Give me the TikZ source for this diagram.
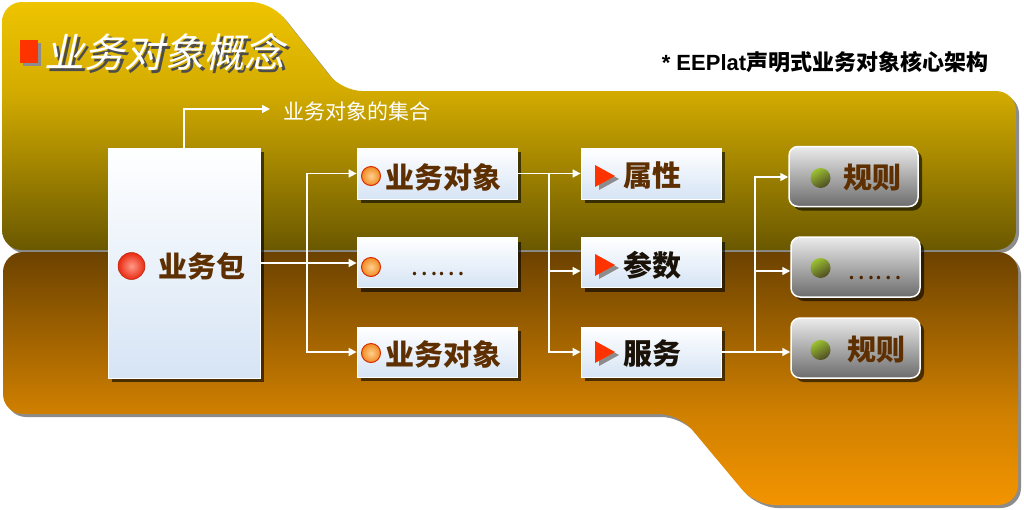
\documentclass[tikz,border=0pt]{standalone}
\usepackage{fontspec}
\newfontfamily\cjk{Noto Sans CJK SC}
\newfontfamily\cjkit{Noto Sans CJK SC}[FakeSlant=0.22]
\newfontfamily\arial{Liberation Sans}
\usetikzlibrary{arrows.meta,shadows}
\definecolor{topA}{HTML}{EEC400}
\definecolor{topB}{HTML}{D4AC00}
\definecolor{topC}{HTML}{6A5800}
\definecolor{botA}{HTML}{6C4200}
\definecolor{botB}{HTML}{D08000}
\definecolor{botC}{HTML}{F39400}
\definecolor{boxblue}{HTML}{D6E4F5}
\definecolor{txtbrown}{HTML}{5E2F00}
\definecolor{txtdark}{HTML}{1A1208}
\definecolor{rulehi}{HTML}{EBEBEB}
\definecolor{rulelo}{HTML}{6C6C6C}
\definecolor{redtri}{HTML}{FF3300}
\definecolor{ballin}{HTML}{FF9A8A}
\definecolor{ballout}{HTML}{E82A10}
\definecolor{orin}{HTML}{FFD090}
\definecolor{orout}{HTML}{F08A20}
\definecolor{gin}{HTML}{9CC232}
\definecolor{gout}{HTML}{4E4A24}
\pgfdeclareverticalshading{topshade}{100bp}{color(0bp)=(topC); color(25bp)=(topC); color(57.25bp)=(topB); color(75bp)=(topA); color(100bp)=(topA)}
\pgfdeclareverticalshading{botshade}{100bp}{color(0bp)=(botC); color(25bp)=(botC); color(43bp)=(botB); color(75bp)=(botA); color(100bp)=(botA)}
\tikzset{
  bigshadow/.style={fill=black!45},
  wbox/.style={draw=white, line width=0.8pt, top color=white, bottom color=boxblue,
    drop shadow={shadow xshift=4pt, shadow yshift=-4pt, fill=black, opacity=0.6}, inner sep=0},
  rbox/.style={draw=white, line width=1.5pt, rounded corners=9pt, top color=rulehi, bottom color=rulelo,
    drop shadow={shadow xshift=4pt, shadow yshift=-4pt, fill=black, opacity=0.6}, inner sep=0},
  lbl/.style={font=\cjk\bfseries\fontsize{29}{29}\selectfont, text=txtbrown, inner sep=0, anchor=west},
  dots/.style={font=\cjk\fontsize{26}{26}\selectfont, text=txtbrown!80!black, inner sep=0, anchor=base west},
  conn/.style={draw=white, line width=1.6pt, -{Triangle[length=8pt,width=8pt]}},
  plain/.style={draw=white, line width=1.6pt},
}
\begin{document}
\begin{tikzpicture}[x=1pt,y=-1pt]
\useasboundingbox (0,0) rectangle (1024,509);
% ---- top shape
\path[bigshadow, rounded corners=20pt] (5,253) -- (5,5) -- (274,5) -- (345,94) -- (1019,94) -- (1019,253) -- cycle;
\shade[shading=topshade, rounded corners=20pt] (2,250) -- (2,2) -- (271,2) -- (342,91) -- (1016,91) -- (1016,250) -- cycle;
% ---- bottom shape
\path[bigshadow, rounded corners=20pt] (6,255) -- (1021,255) -- (1021,508) -- (758,508) -- (682,417) -- (6,417) -- cycle;
\shade[shading=botshade, rounded corners=20pt] (3,252) -- (1018,252) -- (1018,505) -- (755,505) -- (679,414) -- (3,414) -- cycle;
% ---- title
\fill[black!45] (23,43) rectangle (41,66);
\fill[redtri] (20,40) rectangle (38,63);
\node[font=\cjkit\fontsize{40}{40}\selectfont, text=black!70, inner sep=0, anchor=west] at (47,55) {业务对象概念};
\node[font=\cjkit\fontsize{40}{40}\selectfont, text=white, inner sep=0, anchor=west] (title) at (44,52) {业务对象概念};
\node[font=\bfseries\fontsize{22}{22}\selectfont, text=black, inner sep=0] (sub) at (825,62) {{\arial * EEPlat}{\cjk 声明式业务对象核心架构}};
% ---- boxes
\node[wbox, minimum width=152, minimum height=230] (pkg) at (184,263) {};
\node[wbox, minimum width=160, minimum height=51] (ob1) at (437,173.5) {};
\node[wbox, minimum width=160, minimum height=50] (ob2) at (437,262.5) {};
\node[wbox, minimum width=160, minimum height=50] (ob3) at (437,352) {};
\node[wbox, minimum width=140, minimum height=51] (at1) at (651,173.5) {};
\node[wbox, minimum width=140, minimum height=50] (at2) at (651,262.5) {};
\node[wbox, minimum width=140, minimum height=50] (at3) at (651,352) {};
\node[rbox, minimum width=129, minimum height=60] (r1) at (853.5,176.5) {};
\node[rbox, minimum width=129, minimum height=60] (r2) at (855.5,267) {};
\node[rbox, minimum width=129, minimum height=60] (r3) at (855.5,348) {};
% ---- balls
\shade[inner color=ballin, outer color=ballout, draw=ballout!80!black, line width=0.5pt] (131.5,266) circle (13.5);
\foreach \y in {176,267,353} {
  \shade[inner color=orin, outer color=orout, draw=redtri!85!black, line width=1pt] (371,\y) circle (9.5);
}
\foreach \y in {178,268,350} {
  \shade[left color=gin, right color=gout, shading angle=30] (820.5,\y) circle (10);
}
% ---- triangles
\foreach \y in {176,265,352} {
  \fill[black!45] (599,\y-8) -- (619,\y+3) -- (599,\y+14) -- cycle;
  \fill[redtri] (595,\y-11) -- (615,\y) -- (595,\y+11) -- cycle;
}
% ---- texts
\node[lbl] (tpkg) at (158,266) {业务包};
\node[lbl] (tob1) at (385,177) {业务对象};
\node[dots] (tob2) at (410,275) {……};
\node[lbl] (tob3) at (385,354) {业务对象};
\node[lbl] (tat1) at (623,175) {属性};
\node[lbl, text=txtdark] (tat2) at (623,265) {参数};
\node[lbl, text=txtdark] (tat3) at (623,353) {服务};
\node[lbl] (tr1) at (843,178) {规则};
\node[dots] (tr2) at (847,279) {……};
\node[lbl] (tr3) at (847,350) {规则};
\node[font=\cjk\fontsize{21}{21}\selectfont, text=white, inner sep=0, anchor=west] (set) at (283,111) {业务对象的集合};
% ---- connectors
\coordinate (setin) at (270,109);
\draw[conn] (pkg.north) |- (setin);
\coordinate (j1) at (307,263);
\draw[plain] (pkg.east |- j1) -- (j1);
\draw[conn] (j1) -- (ob2.west |- j1);
\draw[conn] (j1) |- (ob1.west);
\draw[conn] (j1) |- (ob3.west);
\coordinate (j2) at (549,173.5);
\draw[plain] (ob1.east) -- (j2);
\draw[conn] (j2) -- (at1.west);
\draw[conn] (j2) |- ([yshift=-8.5pt]at2.west);
\draw[conn] (j2) |- (at3.west);
\coordinate (j3) at (755,352);
\draw[plain] (at3.east) -- (j3);
\draw[conn] (j3) -- (r3.west |- j3);
\draw[conn] (j3) |- ([yshift=-0.5pt]r1.west);
\draw[conn] (j3) |- ([yshift=-4pt]r2.west);
\end{tikzpicture}
\end{document}
